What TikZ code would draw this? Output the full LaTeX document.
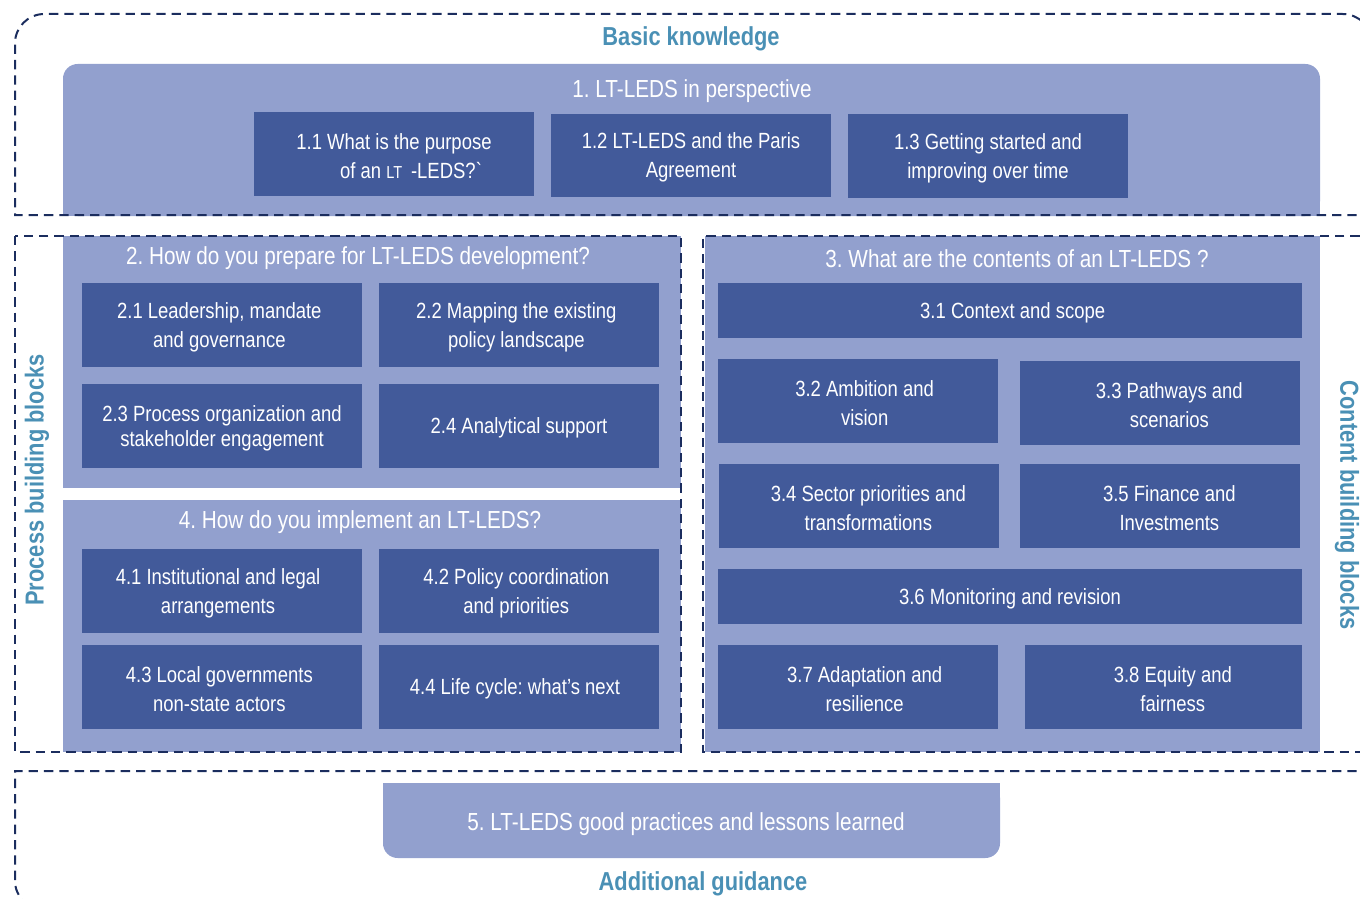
\documentclass[tikz,border=0pt]{standalone}
\usepackage{fontspec}
\setmainfont{Liberation Sans}[FakeStretch=0.84]
\usetikzlibrary{fit}
\frenchspacing
\definecolor{lightbox}{HTML}{92A0CE}
\definecolor{darkbox}{HTML}{425A9A}
\definecolor{tealtxt}{HTML}{4A90B5}
\definecolor{navy}{HTML}{1B2D5E}
\tikzset{
  frame/.style={draw=navy, line width=1.5pt, dash pattern=on 7pt off 4.5pt},
  dbox/.style={fill=darkbox, draw=none, inner sep=0pt, text=white, align=center,
    font=\fontsize{16.5}{21.75}\selectfont},
  btxt/.style={inner sep=0pt, text=white, align=center, yshift=-1.5pt,
    font=\fontsize{16.5}{21.75}\selectfont},
  ttl/.style={text=white, inner sep=0pt, font=\fontsize{18.5}{21}\selectfont},
  sidelabel/.style={text=tealtxt, inner sep=0pt, font=\bfseries\fontsize{19.5}{22}\selectfont}
}
\begin{document}
\begin{tikzpicture}[x=0.75pt,y=-0.75pt]
\useasboundingbox (0,0) rectangle (1360,899);
\clip (0,0) rectangle (1360,899);
% light areas
\fill[lightbox, rounded corners=11pt] (63,64) rectangle (1320,216);
\fill[lightbox] (63,120) rectangle (1320,216);
\fill[lightbox] (63,236) rectangle (681,488);
\fill[lightbox] (63,500) rectangle (681,752);
\fill[lightbox] (705,236) rectangle (1320,752);
\fill[lightbox, rounded corners=11pt] (383,783) rectangle (1000,858);
\fill[lightbox] (383,783) rectangle (1000,820);
% titles
\node[ttl] (t1) at (692,91.5) {1. LT-LEDS in perspective};
\node[ttl] (t2) at (358,258.5) {2. How do you prepare for LT-LEDS development?};
\node[ttl] (t4) at (360,522.5) {4. How do you implement an LT-LEDS?};
\node[ttl] (t3) at (1017,258.5) {3. What are the contents of an LT-LEDS ?};
\node[ttl] (t5) at (686,824.5) {5. LT-LEDS good practices and lessons learned};
% box 1 items
\node[dbox, fit={(254,112)(534,196)}] (b11) {};
\node[btxt] at (b11) {1.1 What is the purpose\\\hspace*{1.6em}of an {\fontsize{13}{15}\selectfont LT} \,-LEDS?{}\textasciigrave};
\node[dbox, fit={(551,114)(831,197)}] (b12) {};
\node[btxt] at (b12) {1.2 LT-LEDS and the Paris\\Agreement};
\node[dbox, fit={(848,114)(1128,198)}] (b13) {};
\node[btxt] at (b13) {1.3 Getting started and\\improving over time};
% box 2 items
\node[dbox, fit={(82,283)(362,367)}] (b21) {};
\node[btxt, xshift=-2pt] at (b21) {2.1 Leadership, mandate\\and governance};
\node[dbox, fit={(379,283)(659,367)}] (b22) {};
\node[btxt, xshift=-2pt] at (b22) {2.2 Mapping the existing\\policy landscape};
\node[dbox, fit={(82,384)(362,468)}] (b23) {};
\node[btxt, font=\fontsize{16.5}{18.75}\selectfont] at (b23) {2.3 Process organization and\\stakeholder engagement};
\node[dbox, fit={(379,384)(659,468)}] (b24) {};
\node[btxt] at (b24) {2.4 Analytical support};
% box 4 items
\node[dbox, fit={(82,549)(362,633)}] (b41) {};
\node[btxt, xshift=-3pt] at (b41) {4.1 Institutional and legal\\arrangements};
\node[dbox, fit={(379,549)(659,633)}] (b42) {};
\node[btxt, xshift=-2pt] at (b42) {4.2 Policy coordination\\and priorities};
\node[dbox, fit={(82,645)(362,729)}] (b43) {};
\node[btxt, xshift=-2pt] at (b43) {4.3 Local governments\\non-state actors};
\node[dbox, fit={(379,645)(659,729)}] (b44) {};
\node[btxt, xshift=-3pt] at (b44) {4.4 Life cycle: what's next};
% box 3 items
\node[dbox, fit={(718,283)(1302,338)}] (b31) {};
\node[btxt, xshift=2pt] at (b31) {3.1 Context and scope};
\node[dbox, fit={(718,359)(998,443)}] (b32) {};
\node[btxt, xshift=5pt] at (b32) {3.2 Ambition and\\vision};
\node[dbox, fit={(1020,361)(1300,445)}] (b33) {};
\node[btxt, xshift=7pt] at (b33) {3.3 Pathways and\\scenarios};
\node[dbox, fit={(719,464)(999,548)}] (b34) {};
\node[btxt, xshift=7pt] at (b34) {3.4 Sector priorities and\\transformations};
\node[dbox, fit={(1020,464)(1300,548)}] (b35) {};
\node[btxt, xshift=7pt] at (b35) {3.5 Finance and\\Investments};
\node[dbox, fit={(718,569)(1302,624)}] (b36) {};
\node[btxt] at (b36) {3.6 Monitoring and revision};
\node[dbox, fit={(718,645)(998,729)}] (b37) {};
\node[btxt, xshift=5pt] at (b37) {3.7 Adaptation and\\resilience};
\node[dbox, fit={(1025,645)(1302,729)}] (b38) {};
\node[btxt, xshift=7pt] at (b38) {3.8 Equity and\\fairness};
% dashed frames
\draw[frame, rounded corners=22] (1372,215) [sharp corners] -- (15,215) [rounded corners=22] -- (15,14) -- (1372,14) -- (1372,215);
\draw[frame] (15,236) rectangle (681,752);
\draw[frame] (1375,236) -- (703,236) -- (703,752) -- (1375,752);
\draw[frame, rounded corners=22] (1372,771) [sharp corners] -- (15,771) [rounded corners=22] -- (15,910) -- (1372,910);
% side labels
\node[sidelabel] (lb) at (691,39) {Basic knowledge};
\node[sidelabel] (la) at (703,884) {Additional guidance};
\node[sidelabel, rotate=90] (lp) at (37,480) {Process building blocks};
\node[sidelabel, rotate=-90] (lc) at (1347,505) {Content building blocks};
\end{tikzpicture}
\end{document}
